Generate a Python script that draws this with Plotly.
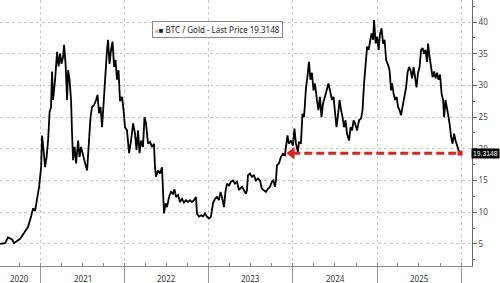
import datetime as dt
import plotly.graph_objects as go

# ---- data ----
t_years = [
    2020.516, 2020.576, 2020.611, 2020.659, 2020.683, 2020.754, 2020.801, 2020.849, 2020.885, 2020.908,
    2020.932, 2020.956, 2020.980, 2021.004, 2021.015, 2021.033, 2021.051, 2021.069, 2021.087, 2021.105,
    2021.122, 2021.134, 2021.146, 2021.170, 2021.194, 2021.212, 2021.229, 2021.247, 2021.265, 2021.277,
    2021.295, 2021.313, 2021.325, 2021.342, 2021.360, 2021.372, 2021.384, 2021.402, 2021.420, 2021.444,
    2021.461, 2021.479, 2021.503, 2021.527, 2021.551, 2021.574, 2021.592, 2021.610, 2021.634, 2021.658,
    2021.675, 2021.693, 2021.711, 2021.729, 2021.747, 2021.765, 2021.788, 2021.800, 2021.818, 2021.836,
    2021.854, 2021.872, 2021.889, 2021.907, 2021.925, 2021.943, 2021.967, 2021.985, 2022.002, 2022.026,
    2022.050, 2022.074, 2022.098, 2022.121, 2022.139, 2022.157, 2022.175, 2022.193, 2022.216, 2022.234,
    2022.252, 2022.276, 2022.300, 2022.323, 2022.347, 2022.359, 2022.371, 2022.395, 2022.419, 2022.442,
    2022.454, 2022.466, 2022.484, 2022.502, 2022.526, 2022.549, 2022.573, 2022.591, 2022.609, 2022.633,
    2022.656, 2022.680, 2022.704, 2022.728, 2022.751, 2022.775, 2022.799, 2022.823, 2022.847, 2022.858,
    2022.882, 2022.906, 2022.930, 2022.954, 2022.977, 2023.001, 2023.025, 2023.049, 2023.073, 2023.096,
    2023.120, 2023.138, 2023.156, 2023.180, 2023.197, 2023.215, 2023.239, 2023.263, 2023.287, 2023.310,
    2023.334, 2023.358, 2023.394, 2023.417, 2023.441, 2023.453, 2023.465, 2023.489, 2023.512, 2023.536,
    2023.560, 2023.584, 2023.608, 2023.631, 2023.655, 2023.679, 2023.703, 2023.727, 2023.750, 2023.768,
    2023.786, 2023.798, 2023.810, 2023.834, 2023.857, 2023.881, 2023.905, 2023.923, 2023.935, 2023.952,
    2023.976, 2024.000, 2024.018, 2024.036, 2024.059, 2024.071, 2024.095, 2024.113, 2024.131, 2024.143,
    2024.155, 2024.172, 2024.190, 2024.208, 2024.226, 2024.244, 2024.262, 2024.285, 2024.303, 2024.321,
    2024.339, 2024.357, 2024.380, 2024.404, 2024.422, 2024.440, 2024.464, 2024.482, 2024.499, 2024.517,
    2024.535, 2024.553, 2024.571, 2024.589, 2024.606, 2024.624, 2024.642, 2024.666, 2024.684, 2024.702,
    2024.720, 2024.737, 2024.761, 2024.785, 2024.809, 2024.826, 2024.844, 2024.862, 2024.880, 2024.898,
    2024.916, 2024.933, 2024.951, 2024.963, 2024.981, 2024.999, 2025.017, 2025.034, 2025.052, 2025.070,
    2025.088, 2025.106, 2025.130, 2025.147, 2025.165, 2025.177, 2025.195, 2025.213, 2025.231, 2025.248,
    2025.266, 2025.284, 2025.308, 2025.326, 2025.344, 2025.361, 2025.379, 2025.397, 2025.415, 2025.433,
    2025.451, 2025.468, 2025.486, 2025.504, 2025.522, 2025.540, 2025.558, 2025.575, 2025.593, 2025.605,
    2025.623, 2025.641, 2025.659, 2025.677, 2025.694, 2025.712, 2025.730, 2025.748, 2025.766, 2025.784,
    2025.796, 2025.813, 2025.831, 2025.849, 2025.867, 2025.879, 2025.897, 2025.915, 2025.932, 2025.950,
    2025.968, 2025.986,
]
btc_gold = [
    5.0, 5.1, 6.0, 5.7, 5.1, 5.8, 6.7, 7.7, 9.3, 10.6,
    10.2, 11.9, 14.0, 17.1, 22.1, 19.8, 17.1, 18.7, 21.3, 25.8,
    26.6, 32.2, 27.7, 30.9, 35.3, 33.0, 35.0, 33.4, 34.5, 36.4,
    33.4, 27.7, 32.4, 30.9, 27.7, 22.4, 18.2, 20.3, 17.7, 21.3,
    18.7, 20.3, 18.7, 17.7, 16.6, 20.8, 25.0, 26.6, 26.9, 27.7,
    28.5, 25.6, 26.6, 23.4, 27.7, 31.5, 35.6, 37.2, 33.4, 35.6,
    36.9, 32.9, 34.0, 30.9, 32.4, 27.5, 28.2, 26.1, 23.4, 22.9,
    19.3, 21.3, 24.0, 22.4, 19.8, 22.9, 19.3, 21.3, 20.3, 25.0,
    24.0, 20.8, 21.1, 20.3, 20.8, 17.1, 15.6, 16.6, 16.1, 17.1,
    14.0, 9.8, 11.4, 10.8, 12.4, 13.2, 12.9, 13.6, 12.4, 12.7,
    11.6, 12.1, 11.5, 11.9, 11.6, 11.9, 11.6, 11.9, 12.4, 9.8,
    9.3, 9.5, 9.3, 9.8, 9.3, 9.0, 9.3, 11.4, 12.1, 12.4,
    11.9, 13.2, 12.4, 10.8, 13.2, 14.5, 14.2, 14.8, 15.0, 14.5,
    14.8, 13.5, 14.0, 13.5, 12.9, 13.5, 15.8, 16.1, 15.6, 15.8,
    15.0, 15.3, 15.0, 13.7, 13.5, 13.2, 13.7, 14.0, 14.8, 15.0,
    14.0, 15.0, 17.4, 17.7, 18.7, 19.2, 19.0, 21.3, 22.1, 20.8,
    21.3, 20.5, 23.2, 20.8, 19.5, 21.1, 20.8, 25.5, 25.0, 27.1,
    29.7, 31.3, 33.7, 30.9, 32.0, 29.2, 30.3, 27.7, 26.1, 28.2,
    25.0, 27.1, 28.2, 29.5, 30.3, 29.2, 27.7, 28.2, 26.1, 23.4,
    25.3, 27.7, 26.1, 25.0, 23.4, 24.5, 22.4, 21.3, 23.4, 22.9,
    24.5, 24.0, 22.9, 24.5, 24.8, 26.1, 30.3, 34.0, 36.1, 35.6,
    37.2, 38.2, 37.2, 40.3, 36.6, 37.7, 35.6, 38.2, 39.0, 36.6,
    37.2, 34.0, 33.2, 32.4, 29.2, 30.3, 28.7, 27.7, 28.2, 26.6,
    26.1, 25.3, 27.1, 28.2, 29.7, 32.0, 32.9, 32.4, 31.1, 32.9,
    30.9, 29.7, 32.0, 32.9, 35.6, 35.9, 35.0, 35.6, 33.7, 36.6,
    34.5, 32.9, 31.3, 32.2, 31.1, 32.0, 30.9, 31.7, 28.7, 27.7,
    25.0, 27.7, 26.6, 25.0, 23.4, 21.9, 20.8, 22.4, 21.3, 20.3,
    19.8, 19.3148,
]
last_price = 19.3148
arrow_from_year = 2023.952
year_labels = ["2020", "2021", "2022", "2023", "2024", "2025"]
year_label_pos = [2020.745, 2021.5, 2022.5, 2023.5, 2024.5, 2025.5]
y_ticks = [5, 10, 15, 20, 25, 30, 35, 40]
x_range_years = [2020.516, 2026.128]
y_range = [1.51, 43.47]


def to_date(t):
    y = int(t)
    start = dt.datetime(y, 1, 1)
    ndays = (dt.datetime(y + 1, 1, 1) - start).days
    return start + dt.timedelta(days=(t - y) * ndays)


dates = [to_date(t) for t in t_years]
FONT = "Noto Sans"
RED = "#d7261e"

fig = go.Figure()
fig.add_trace(go.Scatter(x=dates, y=btc_gold, mode="lines",
                         line=dict(color="black", width=1.8),
                         hoverinfo="skip", showlegend=False))

# red dashed line back to the level of the last price
fig.add_trace(go.Scatter(x=[to_date(arrow_from_year + 0.04), dates[-1]],
                         y=[last_price, last_price], mode="lines",
                         line=dict(color=RED, width=3, dash="8px,4px"),
                         hoverinfo="skip", showlegend=False))
fig.add_trace(go.Scatter(x=[dates[-1]], y=[last_price], mode="markers",
                         marker=dict(color=RED, size=5, symbol="square"),
                         hoverinfo="skip", showlegend=False))
# arrow head
fig.add_trace(go.Scatter(x=[to_date(arrow_from_year + 0.035)], y=[last_price], mode="markers",
                         marker=dict(color=RED, size=11, symbol="triangle-left",
                                     line=dict(width=0)),
                         hoverinfo="skip", showlegend=False))

# legend-like box
fig.add_annotation(xref="paper", yref="paper", x=0.461, y=0.889,
                   xanchor="center", yanchor="middle", showarrow=False,
                   text="<span style='color:#bbbbbb;font-size:6px'>■</span>■ BTC / Gold - Last Price " + f"{last_price:.4f}",
                   font=dict(family=FONT, size=8, color="#222222"),
                   bgcolor="white", bordercolor="#888888", borderwidth=1, borderpad=2)

# last price tag on the right axis (right edge at the page edge)
fig.add_annotation(xref="paper", yref="y", x=500 / 472, y=last_price,
                   xanchor="right", yanchor="middle", showarrow=False,
                   text=f"{last_price:.4f}",
                   font=dict(family="Liberation Sans", size=6.8, color="white"),
                   bgcolor="black", borderpad=1)
fig.add_shape(type="path", xref="paper", yref="y",
              path=f"M 1.002 {last_price} L 1.009 {last_price + 0.55} L 1.009 {last_price - 0.55} Z",
              fillcolor="black", line=dict(width=0))

# year labels centred within each year
for lab, pos in zip(year_labels, year_label_pos):
    fig.add_annotation(xref="x", yref="paper", x=to_date(pos), y=-0.047,
                       xanchor="center", yanchor="middle", showarrow=False,
                       text=lab, font=dict(family=FONT, size=8, color="#333333"))

fig.update_layout(
    width=500, height=283,
    margin=dict(l=0, r=28, t=0, b=17),
    paper_bgcolor="white", plot_bgcolor="white",
    showlegend=False,
    xaxis=dict(
        type="date",
        range=[to_date(x_range_years[0]), to_date(x_range_years[1])],
        tickvals=[dt.datetime(y, 1, 1) for y in range(2021, 2027)],
        showticklabels=False,
        ticks="outside", ticklen=17, tickcolor="#999999", tickwidth=1,
        showgrid=True, gridcolor="#c8c8c8", griddash="dot", gridwidth=1,
        showline=True, linecolor="#888888", linewidth=1,
        zeroline=False,
        minor=dict(ticks="inside", dtick="M3", tick0="2020-01-01", ticklen=3,
                   tickcolor="#888888", showgrid=False),
    ),
    yaxis=dict(
        side="right",
        range=y_range,
        tickvals=y_ticks,
        tickfont=dict(family=FONT, size=8, color="#444444"),
        ticks="outside", ticklen=4, tickcolor="#666666",
        showgrid=True, gridcolor="#c8c8c8", griddash="dot", gridwidth=1,
        showline=True, linecolor="#666666", linewidth=1,
        zeroline=False,
        minor=dict(ticks="outside", dtick=2.5, tick0=0, ticklen=2,
                   tickcolor="#666666", showgrid=False),
    ),
)

fig.write_html("out.html")
